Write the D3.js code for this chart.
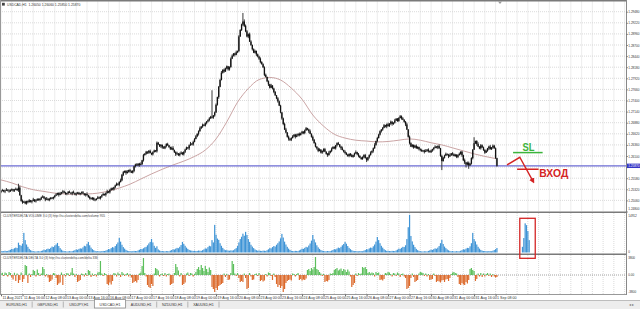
<!DOCTYPE html>
<html><head><meta charset="utf-8">
<script src="https://cdn.jsdelivr.net/npm/d3@7"></script>
<style>
html,body{margin:0;padding:0;background:#fff;overflow:hidden;}
svg{display:block;font-family:"Liberation Sans",Arial,sans-serif;}
</style></head><body>
<svg id="chart" width="640" height="309"></svg>
<script>
// ---------------- DATA ----------------
const symbolTitle = "USDCAD,H1";
const timeLabels = ["11 Aug 2021","11 Aug 16:00","12 Aug 08:00","13 Aug 00:00","13 Aug 16:00","16 Aug 08:00","17 Aug 00:00","17 Aug 16:00","18 Aug 08:00","19 Aug 00:00","19 Aug 16:00","20 Aug 08:00","23 Aug 00:00","23 Aug 16:00","24 Aug 08:00","25 Aug 00:00","25 Aug 16:00","26 Aug 08:00","27 Aug 00:00","27 Aug 16:00","30 Aug 08:00","31 Aug 00:00","31 Aug 16:00","1 Sep 08:00"];
const timeLabelBars = [0,16,32,48,64,80,96,112,128,144,160,176,192,208,224,240,256,272,288,304,320,336,352,368];
const priceTicks = [1.2480,1.2506,1.2532,1.2558,1.2584,1.2610,1.2636,1.2662,1.2688,1.2714,1.2740,1.2766,1.2792,1.2818,1.2844,1.2870,1.2896,1.2922,1.2948];
const volumeAxisMax = 14912;
const deltaAxisMax = 3800;
const tabs = ["EURUSD,H1","GBPUSD,H1","USDJPY,H1","USDCAD,H1","AUDUSD,H1","NZDUSD,H1","XAUUSD,H1"];
const activeTab = "USDCAD,H1";
const volumeTitle = "CLUSTERDELTA VOLUME 3.0 (3) http://ru.clusterdelta.com/volume 955";
const deltaTitle = "CLUSTERDELTA DELTA 3.0 (3) http://ru.clusterdelta.com/delta 336";

const opens = [
1.2526,1.2528,1.2530,1.2527,1.2529,1.2531,1.2529,1.2527,1.2530,1.2532,
1.2529,1.2531,1.2533,1.2530,1.2536,1.2518,1.2505,1.2501,1.2503,1.2499,
1.2504,1.2502,1.2506,1.2503,1.2505,1.2508,1.2504,1.2506,1.2509,1.2507,
1.2510,1.2513,1.2515,1.2511,1.2508,1.2510,1.2507,1.2509,1.2512,1.2511,
1.2514,1.2517,1.2520,1.2523,1.2519,1.2522,1.2525,1.2527,1.2524,1.2521,
1.2523,1.2526,1.2524,1.2522,1.2525,1.2523,1.2520,1.2522,1.2524,1.2521,
1.2523,1.2525,1.2522,1.2519,1.2521,1.2518,1.2514,1.2511,1.2509,1.2512,
1.2508,1.2507,1.2510,1.2513,1.2511,1.2515,1.2518,1.2521,1.2519,1.2523,
1.2527,1.2525,1.2530,1.2534,1.2532,1.2537,1.2541,1.2545,1.2543,1.2549,
1.2553,1.2566,1.2572,1.2575,1.2570,1.2573,1.2577,1.2574,1.2571,1.2575,
1.2586,1.2590,1.2588,1.2592,1.2589,1.2591,1.2600,1.2612,1.2615,1.2620,
1.2618,1.2622,1.2617,1.2614,1.2619,1.2623,1.2621,1.2641,1.2637,1.2633,
1.2636,1.2630,1.2628,1.2633,1.2638,1.2635,1.2631,1.2627,1.2629,1.2624,
1.2619,1.2614,1.2616,1.2612,1.2615,1.2618,1.2614,1.2620,1.2625,1.2630,
1.2628,1.2635,1.2639,1.2637,1.2643,1.2650,1.2656,1.2662,1.2668,1.2675,
1.2679,1.2683,1.2681,1.2687,1.2691,1.2694,1.2698,1.2702,1.2700,1.2705,
1.2712,1.2730,1.2748,1.2772,1.2788,1.2805,1.2812,1.2808,1.2815,1.2820,
1.2813,1.2818,1.2838,1.2845,1.2850,1.2847,1.2853,1.2856,1.2890,1.2905,
1.2918,1.2925,1.2915,1.2902,1.2890,1.2895,1.2878,1.2870,1.2860,1.2852,
1.2856,1.2848,1.2843,1.2838,1.2830,1.2825,1.2818,1.2800,1.2795,1.2785,
1.2778,1.2770,1.2775,1.2768,1.2760,1.2752,1.2745,1.2738,1.2728,1.2712,
1.2698,1.2685,1.2672,1.2665,1.2655,1.2650,1.2648,1.2652,1.2656,1.2660,
1.2655,1.2658,1.2662,1.2659,1.2663,1.2667,1.2664,1.2670,1.2675,1.2672,
1.2668,1.2662,1.2655,1.2648,1.2640,1.2632,1.2628,1.2622,1.2625,1.2618,
1.2622,1.2626,1.2620,1.2615,1.2612,1.2618,1.2622,1.2627,1.2631,1.2628,
1.2635,1.2640,1.2637,1.2632,1.2628,1.2624,1.2620,1.2617,1.2613,1.2610,
1.2615,1.2612,1.2608,1.2612,1.2616,1.2619,1.2614,1.2610,1.2606,1.2603,
1.2608,1.2612,1.2605,1.2601,1.2607,1.2612,1.2618,1.2622,1.2628,1.2636,
1.2645,1.2652,1.2660,1.2668,1.2672,1.2676,1.2682,1.2679,1.2684,1.2680,
1.2686,1.2690,1.2685,1.2688,1.2693,1.2697,1.2692,1.2699,1.2703,1.2698,
1.2695,1.2690,1.2684,1.2672,1.2655,1.2640,1.2632,1.2636,1.2630,1.2634,
1.2628,1.2631,1.2626,1.2624,1.2621,1.2623,1.2620,1.2622,1.2625,1.2621,
1.2619,1.2623,1.2626,1.2629,1.2632,1.2630,1.2633,1.2628,1.2610,1.2598,
1.2606,1.2611,1.2615,1.2613,1.2609,1.2612,1.2616,1.2614,1.2610,1.2613,
1.2608,1.2612,1.2615,1.2620,1.2612,1.2600,1.2595,1.2590,1.2594,1.2588,
1.2592,1.2605,1.2625,1.2640,1.2645,1.2638,1.2632,1.2628,1.2635,1.2630,
1.2624,1.2618,1.2622,1.2628,1.2632,1.2626,1.2630,1.2634,1.2628,1.2605];

const highs = [
1.2530,1.2533,1.2531,1.2531,1.2535,1.2532,1.2532,1.2532,1.2534,1.2533,
1.2533,1.2536,1.2534,1.2545,1.2540,1.2519,1.2508,1.2505,1.2505,1.2505,
1.2506,1.2509,1.2507,1.2507,1.2512,1.2509,1.2509,1.2511,1.2511,1.2511,
1.2515,1.2518,1.2516,1.2513,1.2514,1.2511,1.2512,1.2514,1.2514,1.2515,
1.2519,1.2523,1.2524,1.2525,1.2526,1.2526,1.2530,1.2529,1.2526,1.2524,
1.2528,1.2529,1.2525,1.2527,1.2529,1.2524,1.2525,1.2526,1.2526,1.2524,
1.2527,1.2528,1.2523,1.2523,1.2525,1.2519,1.2517,1.2513,1.2514,1.2513,
1.2510,1.2511,1.2516,1.2515,1.2516,1.2520,1.2524,1.2522,1.2525,1.2531,
1.2528,1.2533,1.2536,1.2536,1.2538,1.2543,1.2548,1.2546,1.2551,1.2557,
1.2568,1.2575,1.2576,1.2577,1.2577,1.2578,1.2580,1.2576,1.2577,1.2587,
1.2592,1.2593,1.2593,1.2594,1.2595,1.2601,1.2615,1.2617,1.2622,1.2621,
1.2624,1.2625,1.2618,1.2621,1.2625,1.2624,1.2644,1.2643,1.2638,1.2638,
1.2637,1.2633,1.2634,1.2640,1.2641,1.2636,1.2632,1.2632,1.2633,1.2625,
1.2621,1.2620,1.2617,1.2618,1.2621,1.2619,1.2621,1.2627,1.2632,1.2631,
1.2637,1.2643,1.2640,1.2646,1.2652,1.2659,1.2663,1.2670,1.2679,1.2680,
1.2686,1.2685,1.2689,1.2692,1.2696,1.2701,1.2704,1.2764,1.2706,1.2714,
1.2733,1.2749,1.2774,1.2791,1.2809,1.2813,1.2815,1.2817,1.2822,1.2821,
1.2820,1.2841,1.2848,1.2851,1.2852,1.2857,1.2857,1.2893,1.2907,1.2920,
1.2945,1.2930,1.2918,1.2905,1.2897,1.2899,1.2881,1.2871,1.2862,1.2859,
1.2857,1.2850,1.2845,1.2841,1.2832,1.2827,1.2820,1.2803,1.2796,1.2787,
1.2779,1.2779,1.2776,1.2770,1.2762,1.2753,1.2748,1.2740,1.2730,1.2713,
1.2700,1.2688,1.2676,1.2666,1.2658,1.2652,1.2654,1.2659,1.2661,1.2662,
1.2662,1.2663,1.2665,1.2665,1.2669,1.2668,1.2672,1.2678,1.2676,1.2674,
1.2672,1.2663,1.2658,1.2650,1.2642,1.2633,1.2630,1.2628,1.2626,1.2623,
1.2628,1.2629,1.2621,1.2617,1.2622,1.2623,1.2630,1.2633,1.2633,1.2636,
1.2642,1.2643,1.2638,1.2634,1.2632,1.2625,1.2623,1.2619,1.2615,1.2616,
1.2617,1.2615,1.2613,1.2618,1.2623,1.2620,1.2617,1.2612,1.2608,1.2609,
1.2614,1.2615,1.2607,1.2608,1.2614,1.2621,1.2623,1.2630,1.2640,1.2646,
1.2655,1.2662,1.2670,1.2673,1.2678,1.2685,1.2683,1.2686,1.2688,1.2687,
1.2693,1.2692,1.2689,1.2697,1.2699,1.2699,1.2701,1.2706,1.2705,1.2701,
1.2696,1.2692,1.2688,1.2673,1.2658,1.2642,1.2638,1.2637,1.2636,1.2637,
1.2633,1.2632,1.2628,1.2627,1.2624,1.2625,1.2626,1.2626,1.2628,1.2623,
1.2625,1.2627,1.2631,1.2635,1.2633,1.2635,1.2637,1.2629,1.2613,1.2608,
1.2613,1.2618,1.2616,1.2615,1.2616,1.2617,1.2619,1.2616,1.2615,1.2614,
1.2614,1.2618,1.2621,1.2622,1.2613,1.2604,1.2596,1.2597,1.2597,1.2594,
1.2607,1.2626,1.2654,1.2646,1.2647,1.2642,1.2633,1.2638,1.2637,1.2632,
1.2626,1.2625,1.2629,1.2634,1.2636,1.2631,1.2637,1.2636,1.2630,1.2606];

const lows = [
1.2523,1.2527,1.2525,1.2523,1.2528,1.2527,1.2524,1.2526,1.2528,1.2526,
1.2526,1.2530,1.2528,1.2526,1.2517,1.2503,1.2498,1.2500,1.2497,1.2496,
1.2499,1.2501,1.2501,1.2499,1.2504,1.2502,1.2501,1.2505,1.2505,1.2504,
1.2507,1.2512,1.2509,1.2504,1.2507,1.2505,1.2504,1.2508,1.2509,1.2508,
1.2511,1.2516,1.2518,1.2515,1.2518,1.2520,1.2522,1.2523,1.2519,1.2518,
1.2520,1.2523,1.2520,1.2518,1.2522,1.2518,1.2517,1.2521,1.2519,1.2518,
1.2520,1.2521,1.2517,1.2515,1.2517,1.2512,1.2508,1.2508,1.2507,1.2505,
1.2504,1.2506,1.2509,1.2509,1.2508,1.2512,1.2517,1.2517,1.2515,1.2522,
1.2523,1.2522,1.2529,1.2530,1.2529,1.2534,1.2540,1.2541,1.2539,1.2548,
1.2551,1.2563,1.2570,1.2566,1.2569,1.2571,1.2571,1.2570,1.2569,1.2572,
1.2583,1.2587,1.2586,1.2585,1.2588,1.2589,1.2597,1.2611,1.2613,1.2615,
1.2615,1.2616,1.2612,1.2611,1.2618,1.2619,1.2618,1.2636,1.2631,1.2629,
1.2627,1.2627,1.2626,1.2630,1.2634,1.2629,1.2624,1.2624,1.2623,1.2617,
1.2610,1.2613,1.2610,1.2609,1.2614,1.2612,1.2611,1.2617,1.2624,1.2626,
1.2624,1.2634,1.2635,1.2634,1.2642,1.2649,1.2654,1.2658,1.2667,1.2673,
1.2676,1.2680,1.2679,1.2684,1.2689,1.2691,1.2697,1.2698,1.2697,1.2702,
1.2711,1.2728,1.2744,1.2771,1.2787,1.2803,1.2805,1.2807,1.2813,1.2810,
1.2810,1.2817,1.2837,1.2843,1.2843,1.2846,1.2851,1.2853,1.2889,1.2903,
1.2915,1.2912,1.2900,1.2888,1.2886,1.2877,1.2868,1.2857,1.2851,1.2850,
1.2844,1.2841,1.2835,1.2827,1.2824,1.2816,1.2797,1.2794,1.2783,1.2774,
1.2768,1.2769,1.2766,1.2757,1.2751,1.2743,1.2735,1.2727,1.2710,1.2695,
1.2682,1.2671,1.2663,1.2653,1.2646,1.2645,1.2645,1.2651,1.2654,1.2651,
1.2654,1.2656,1.2656,1.2658,1.2661,1.2661,1.2661,1.2669,1.2670,1.2664,
1.2661,1.2653,1.2645,1.2639,1.2630,1.2625,1.2619,1.2621,1.2616,1.2615,
1.2619,1.2619,1.2613,1.2608,1.2611,1.2616,1.2619,1.2626,1.2626,1.2625,
1.2632,1.2636,1.2630,1.2624,1.2623,1.2618,1.2614,1.2612,1.2608,1.2607,
1.2609,1.2607,1.2606,1.2608,1.2615,1.2612,1.2607,1.2605,1.2601,1.2601,
1.2605,1.2604,1.2596,1.2598,1.2604,1.2611,1.2616,1.2618,1.2627,1.2634,
1.2642,1.2651,1.2658,1.2665,1.2669,1.2675,1.2677,1.2675,1.2679,1.2678,
1.2683,1.2681,1.2683,1.2686,1.2692,1.2690,1.2690,1.2698,1.2695,1.2694,
1.2688,1.2680,1.2671,1.2653,1.2637,1.2631,1.2630,1.2627,1.2629,1.2627,
1.2626,1.2623,1.2621,1.2620,1.2619,1.2616,1.2619,1.2620,1.2618,1.2618,
1.2617,1.2620,1.2623,1.2628,1.2628,1.2626,1.2627,1.2608,1.2577,1.2597,
1.2604,1.2610,1.2611,1.2605,1.2608,1.2610,1.2611,1.2609,1.2608,1.2605,
1.2605,1.2611,1.2613,1.2608,1.2598,1.2591,1.2583,1.2588,1.2580,1.2587,
1.2590,1.2602,1.2624,1.2638,1.2634,1.2631,1.2626,1.2625,1.2629,1.2622,
1.2615,1.2617,1.2620,1.2624,1.2625,1.2624,1.2627,1.2627,1.2603,1.2585];

const closes = [
1.2528,1.2530,1.2527,1.2529,1.2531,1.2529,1.2527,1.2530,1.2532,1.2529,
1.2531,1.2533,1.2530,1.2536,1.2518,1.2505,1.2501,1.2503,1.2499,1.2504,
1.2502,1.2506,1.2503,1.2505,1.2508,1.2504,1.2506,1.2509,1.2507,1.2510,
1.2513,1.2515,1.2511,1.2508,1.2510,1.2507,1.2509,1.2512,1.2511,1.2514,
1.2517,1.2520,1.2523,1.2519,1.2522,1.2525,1.2527,1.2524,1.2521,1.2523,
1.2526,1.2524,1.2522,1.2525,1.2523,1.2520,1.2522,1.2524,1.2521,1.2523,
1.2525,1.2522,1.2519,1.2521,1.2518,1.2514,1.2511,1.2509,1.2512,1.2508,
1.2507,1.2510,1.2513,1.2511,1.2515,1.2518,1.2521,1.2519,1.2523,1.2527,
1.2525,1.2530,1.2534,1.2532,1.2537,1.2541,1.2545,1.2543,1.2549,1.2553,
1.2566,1.2572,1.2575,1.2570,1.2573,1.2577,1.2574,1.2571,1.2575,1.2586,
1.2590,1.2588,1.2592,1.2589,1.2591,1.2600,1.2612,1.2615,1.2620,1.2618,
1.2622,1.2617,1.2614,1.2619,1.2623,1.2621,1.2641,1.2637,1.2633,1.2636,
1.2630,1.2628,1.2633,1.2638,1.2635,1.2631,1.2627,1.2629,1.2624,1.2619,
1.2614,1.2616,1.2612,1.2615,1.2618,1.2614,1.2620,1.2625,1.2630,1.2628,
1.2635,1.2639,1.2637,1.2643,1.2650,1.2656,1.2662,1.2668,1.2675,1.2679,
1.2683,1.2681,1.2687,1.2691,1.2694,1.2698,1.2702,1.2700,1.2705,1.2712,
1.2730,1.2748,1.2772,1.2788,1.2805,1.2812,1.2808,1.2815,1.2820,1.2813,
1.2818,1.2838,1.2845,1.2850,1.2847,1.2853,1.2856,1.2890,1.2905,1.2918,
1.2925,1.2915,1.2902,1.2890,1.2895,1.2878,1.2870,1.2860,1.2852,1.2856,
1.2848,1.2843,1.2838,1.2830,1.2825,1.2818,1.2800,1.2795,1.2785,1.2778,
1.2770,1.2775,1.2768,1.2760,1.2752,1.2745,1.2738,1.2728,1.2712,1.2698,
1.2685,1.2672,1.2665,1.2655,1.2650,1.2648,1.2652,1.2656,1.2660,1.2655,
1.2658,1.2662,1.2659,1.2663,1.2667,1.2664,1.2670,1.2675,1.2672,1.2668,
1.2662,1.2655,1.2648,1.2640,1.2632,1.2628,1.2622,1.2625,1.2618,1.2622,
1.2626,1.2620,1.2615,1.2612,1.2618,1.2622,1.2627,1.2631,1.2628,1.2635,
1.2640,1.2637,1.2632,1.2628,1.2624,1.2620,1.2617,1.2613,1.2610,1.2615,
1.2612,1.2608,1.2612,1.2616,1.2619,1.2614,1.2610,1.2606,1.2603,1.2608,
1.2612,1.2605,1.2601,1.2607,1.2612,1.2618,1.2622,1.2628,1.2636,1.2645,
1.2652,1.2660,1.2668,1.2672,1.2676,1.2682,1.2679,1.2684,1.2680,1.2686,
1.2690,1.2685,1.2688,1.2693,1.2697,1.2692,1.2699,1.2703,1.2698,1.2695,
1.2690,1.2684,1.2672,1.2655,1.2640,1.2632,1.2636,1.2630,1.2634,1.2628,
1.2631,1.2626,1.2624,1.2621,1.2623,1.2620,1.2622,1.2625,1.2621,1.2619,
1.2623,1.2626,1.2629,1.2632,1.2630,1.2633,1.2628,1.2610,1.2598,1.2606,
1.2611,1.2615,1.2613,1.2609,1.2612,1.2616,1.2614,1.2610,1.2613,1.2608,
1.2612,1.2615,1.2620,1.2612,1.2600,1.2595,1.2590,1.2594,1.2588,1.2592,
1.2605,1.2625,1.2640,1.2645,1.2638,1.2632,1.2628,1.2635,1.2630,1.2624,
1.2618,1.2622,1.2628,1.2632,1.2626,1.2630,1.2634,1.2628,1.2605,1.2587];

const maBars = [0,8,16,24,32,40,48,56,64,72,80,88,96,104,112,120,128,136,144,152,160,168,176,184,192,200,208,216,224,232,240,248,256,264,272,280,288,296,304,312,320,328,336,344,352,360,368];
const maValues = [1.2554,1.2547,1.2538,1.2531,1.2527,1.2523,1.2521,1.2520,1.2521,1.2523,1.2528,1.2535,1.2544,1.2556,1.2568,1.2579,1.2589,1.2598,1.2609,1.2624,1.2650,1.2690,1.2736,1.2768,1.2789,1.2794,1.2788,1.2769,1.2743,1.2706,1.2680,1.2661,1.2652,1.2647,1.2645,1.2643,1.2644,1.2647,1.2650,1.2647,1.2641,1.2636,1.2629,1.2622,1.2615,1.2609,1.2604];

const volumes = [
620,480,550,700,520,610,830,1050,1420,1280,1650,1900,1750,3800,2900,2600,3400,7600,4800,3100,2200,1400,900,650,
520,410,380,460,500,430,620,780,1100,950,1300,1500,1350,1800,2300,2100,2700,3100,3700,2500,1700,1100,700,540,
480,390,440,520,460,510,700,900,1200,1050,1400,1600,1500,2000,2600,2400,3300,4100,2800,1900,1300,900,620,450,
560,470,420,530,610,580,760,1000,1350,1250,1700,2100,1900,2500,3200,3900,5650,4200,3000,2100,1500,1000,700,520,
540,450,500,620,580,530,800,1050,1400,1300,1650,2000,2200,2800,3500,4100,5250,3900,2600,1800,2400,1200,800,560,
600,480,440,560,500,470,720,950,1250,1150,1500,1800,1650,2200,2900,4100,3300,2600,1900,1400,1000,800,700,600,
700,560,610,760,680,640,900,1200,1600,1500,2100,2600,2400,4800,3900,10700,6900,5400,4900,3600,2600,1800,1200,900,
900,760,700,820,760,880,1300,1700,2500,3900,5200,6100,7300,6500,8000,6800,5200,4100,3000,2300,1700,1200,900,700,
800,650,600,720,690,620,900,1250,1700,1600,2100,2500,2300,3000,3600,4300,5500,7200,5800,4200,3100,2200,1500,1000,
700,560,520,640,600,560,820,1100,1500,1400,1800,2200,2000,2700,3500,4600,6800,5100,3900,2800,2000,1400,950,700,
620,500,460,580,540,500,740,980,1300,1200,1550,1900,1700,2200,2800,3300,4100,3400,2500,1800,1300,900,650,520,
600,480,450,560,520,480,720,950,1300,1200,1600,1900,1800,2400,3100,4200,6000,4800,3600,2600,1900,1300,900,640,
700,560,520,640,600,560,820,1100,1500,1400,1800,2200,2100,2800,5200,9800,14600,6400,4300,3000,2100,1400,900,650,
520,420,400,480,450,420,620,820,1100,1000,1300,1600,1450,1900,2500,3600,4900,3300,2300,1700,1200,850,600,460,
560,450,420,520,480,440,680,900,1250,1150,1500,1800,1700,2400,3600,7600,5200,4300,3100,2200,1500,1000,720,560,
600,480,450,560,520,480,700,950,1300,1750];

const deltas = [
300,450,-200,500,350,-300,600,400,-500,-900,
450,-1200,300,-1600,-1000,500,-1400,-800,2000,1800,
-1600,300,-400,200,1000,800,-300,1100,400,-200,
300,1600,1200,-300,200,-500,-1400,-1200,-900,400,
300,-600,-2000,-1700,-1500,500,-2000,200,-300,400,
300,-200,500,1400,300,-400,200,-1400,-1200,-1000,
300,200,-300,400,-200,1000,800,-400,300,-200,
200,-300,500,600,2800,300,-200,400,200,-1800,
-2000,-1500,-1900,-1200,400,300,-300,500,200,-400,
600,300,-200,200,400,-300,200,-500,-1600,-1400,
-1200,-1500,-1000,300,500,1800,3400,400,-300,-2000,
-2400,-2600,-1800,-2200,300,1400,1200,900,-300,200,
300,-200,400,-300,200,300,-2000,-1800,-1600,400,
2200,1600,900,-300,400,-2000,-1800,-1500,300,500,
-200,400,300,-300,200,600,1200,1600,1000,2000,
1400,800,1800,1200,600,1500,1000,-2400,-2800,-3400,
-2600,-3000,-2200,-2000,-1800,-1600,300,-400,200,-1000,
-900,400,2800,2200,300,-200,400,-600,-1400,-1200,
-1400,300,-600,-2800,-2600,400,-300,-1000,-900,200,
300,-200,400,-1200,-1000,-1300,-1100,200,-300,500,
400,-200,-1000,300,-400,-1800,-2400,-2000,-2600,-2200,
-3400,-2800,-1600,-1200,-1000,-900,-1100,300,200,-300,
200,400,-1000,-800,-1100,-900,-1000,-700,1000,1200,
800,1400,1100,1600,3600,1200,1000,600,300,-200,
200,-1400,-1200,-1300,-1000,300,200,400,1000,1200,
1400,900,1100,1300,800,1200,1000,600,1100,700,
-300,-2400,-2000,-1600,300,-200,400,200,300,1600,
1400,1600,1200,400,600,300,500,400,-300,600,
400,500,-1000,-900,-1100,-800,400,300,600,500,
200,-300,400,300,-200,500,300,-400,200,300,
-300,-600,-2800,-2600,-2200,-600,300,-400,-1400,-1200,
-1000,300,600,500,400,-200,300,-300,200,-1000,
-900,-800,300,-200,-1400,-1200,-1300,-1500,-1100,-1000,
-1400,-900,-800,-1200,-600,200,500,600,400,300,
-400,-1800,-2000,-1600,-1900,-2000,-1400,-1700,-1000,1200,
1400,1000,800,-1200,-800,300,-300,400,-400,300,
-300,200,400,-200,300,-400,200,-300,-500,-400];

// hand-drawn annotation (in bar / price / volume units)
const slPrice = 1.2618, slFromBar = 381, slToBar = 403, slTextBar = 388;
const entryPrice = 1.2579, entryFromBar = 384, entryToBar = 400, entryTextBar = 400.5, entryTextPrice = 1.2561;
const arrowBars = [376.5, 386, 396];
const arrowPrices = [1.2589, 1.2607, 1.2550];
const boxFromBar = 386, boxToBar = 397.5, boxVolTop = 13250, boxVolBottom = -2250;
const sketchVolBars = [388,389,390,391,392,393];
const sketchVolumes = [2200,5600,11300,10600,8300,4800];

// ---------------- DRAW ----------------
const svg = d3.select("#chart");
const plotR = 626;
const n = closes.length;
const x = d3.scaleLinear().domain([0, n - 1]).range([1, 1 + 1.344 * (n - 1)]);
const yP = d3.scaleLinear().domain([priceTicks[0], priceTicks[priceTicks.length - 1]]).range([211.5, 11.7]);
const yV = d3.scaleLinear().domain([0, volumeAxisMax]).range([252.5, 214]);
const yD = d3.scaleLinear().domain([-deltaAxisMax, deltaAxisMax]).range([294, 256]);
const fs = 3.6, fsAx = 3.1;

const defs = svg.append("defs");
defs.append("clipPath").attr("id", "clipMain").append("rect").attr("x", 0).attr("y", 1.5).attr("width", plotR).attr("height", 210.3);
defs.append("clipPath").attr("id", "clipVol").append("rect").attr("x", 0).attr("y", 213).attr("width", plotR).attr("height", 40.5);
defs.append("clipPath").attr("id", "clipDel").append("rect").attr("x", 0).attr("y", 255).attr("width", plotR).attr("height", 39);
defs.append("marker").attr("id", "arrowHead").attr("viewBox", "0 0 10 10")
  .attr("refX", 6).attr("refY", 5).attr("markerWidth", 5.5).attr("markerHeight", 5.5)
  .attr("markerUnits", "userSpaceOnUse").attr("orient", "auto")
  .append("path").attr("d", "M0,0 L10,5 L0,10 Z").attr("fill", "#d42424");

svg.append("rect").attr("width", 640).attr("height", 309).attr("fill", "#fff");

// grid
const panels = [[1.5, 211.5], [213, 253.5], [255, 294]];
const gridBars = d3.range(0, Math.floor(x.invert(plotR)) + 1, 8);
const gGrid = svg.append("g").attr("stroke", "#d2d2d2").attr("stroke-width", 0.8).attr("stroke-dasharray", "1,1");
panels.forEach(([t, b]) => {
  gGrid.append("g").selectAll("line").data(gridBars).join("line")
    .attr("x1", d => x(d)).attr("x2", d => x(d)).attr("y1", t).attr("y2", b);
});
gGrid.append("g").selectAll("line").data(priceTicks.slice(1)).join("line")
  .attr("x1", 0).attr("x2", plotR).attr("y1", d => yP(d)).attr("y2", d => yP(d));

// delta zero line
svg.append("line").attr("x1", 0).attr("x2", plotR).attr("y1", yD(0)).attr("y2", yD(0))
  .attr("stroke", "#8a8a8a").attr("stroke-width", 0.8).attr("stroke-dasharray", "1,1");

// moving average
const gMain = svg.append("g").attr("clip-path", "url(#clipMain)");
gMain.append("path").datum(maBars.map((b, i) => [b, maValues[i]]))
  .attr("fill", "none").attr("stroke", "#c49a9a").attr("stroke-width", 0.9)
  .attr("d", d3.line().x(d => x(d[0])).y(d => yP(d[1])).curve(d3.curveMonotoneX));

// bid line
const lastClose = closes[n - 1];
gMain.append("line").attr("x1", 0).attr("x2", plotR).attr("y1", yP(lastClose)).attr("y2", yP(lastClose))
  .attr("stroke", "#6c6cd4").attr("stroke-width", 1.2);

// candles
const bars = d3.range(n);
gMain.append("g").attr("stroke", "#3a3a3a").attr("stroke-width", 1)
  .selectAll("line").data(bars).join("line")
  .attr("x1", i => x(i)).attr("x2", i => x(i))
  .attr("y1", i => yP(highs[i])).attr("y2", i => yP(lows[i]));
gMain.append("g").attr("fill", "#111")
  .selectAll("rect").data(bars).join("rect")
  .attr("x", i => x(i) - 0.65).attr("width", 1.3)
  .attr("y", i => yP(Math.max(opens[i], closes[i])))
  .attr("height", i => Math.max(0.7, Math.abs(yP(opens[i]) - yP(closes[i]))));

// volume
const gVol = svg.append("g").attr("clip-path", "url(#clipVol)");
gVol.append("g").attr("fill", "#3f94d6").selectAll("rect").data(bars).join("rect")
  .attr("x", i => x(i) - 0.6).attr("width", 1.2)
  .attr("y", i => yV(volumes[i])).attr("height", i => yV(0) - yV(volumes[i]));
gVol.append("g").attr("fill", "#3f94d6").selectAll("rect").data(sketchVolBars).join("rect")
  .attr("x", (b) => x(b) - 0.6).attr("width", 1.2)
  .attr("y", (b, k) => yV(sketchVolumes[k])).attr("height", (b, k) => yV(0) - yV(sketchVolumes[k]));

// delta
const gDel = svg.append("g").attr("clip-path", "url(#clipDel)");
gDel.selectAll("rect").data(bars).join("rect")
  .attr("x", i => x(i) - 0.6).attr("width", 1.2)
  .attr("y", i => Math.min(yD(deltas[i]), yD(0)))
  .attr("height", i => Math.abs(yD(deltas[i]) - yD(0)))
  .attr("fill", i => deltas[i] >= 0 ? "#5cbf5c" : "#dc6a2c");

// borders
const border = svg.append("g").attr("stroke", "#7a7a7a");
border.append("line").attr("x1", 0).attr("x2", plotR).attr("y1", 0.8).attr("y2", 0.8).attr("stroke-width", 1.6);
border.append("line").attr("x1", 0).attr("x2", plotR).attr("y1", 212.3).attr("y2", 212.3).attr("stroke-width", 1.6);
border.append("line").attr("x1", 0).attr("x2", plotR).attr("y1", 254.3).attr("y2", 254.3).attr("stroke-width", 1.6);
border.append("line").attr("x1", 0).attr("x2", plotR).attr("y1", 294.5).attr("y2", 294.5).attr("stroke-width", 1).attr("stroke", "#999");
border.append("line").attr("x1", 0.5).attr("x2", 0.5).attr("y1", 0).attr("y2", 295).attr("stroke-width", 1).attr("stroke", "#999");
border.append("line").attr("x1", plotR + 0.5).attr("x2", plotR + 0.5).attr("y1", 0).attr("y2", 295).attr("stroke-width", 1).attr("stroke", "#888");

// shift marker
svg.append("path").attr("d", "M498,1.5 L502,1.5 L500,4 Z").attr("fill", "#999");

// price axis (label hidden where the bid label sits, as the terminal does)
const pAxis = svg.append("g").attr("transform", `translate(${plotR + 0.5},0)`)
  .call(d3.axisRight(yP).tickValues(priceTicks).tickFormat(d3.format(".5f")).tickSize(1.2).tickPadding(0.6));
pAxis.select(".domain").remove();
pAxis.selectAll("line").attr("stroke", "#666");
pAxis.selectAll("text").attr("font-size", fsAx).attr("fill", "#333").attr("font-family", "Liberation Sans, Arial, sans-serif")
  .attr("dy", d => d === priceTicks[0] ? "-0.6em" : "0.32em")
  .style("display", d => Math.abs(yP(d) - yP(lastClose)) < 4 ? "none" : null);

// bid label
svg.append("rect").attr("x", plotR + 1).attr("y", yP(lastClose) - 2.2).attr("width", 14).attr("height", 4.4).attr("fill", "#3535c6");
svg.append("text").attr("x", plotR + 2.2).attr("y", yP(lastClose) + 1.1).attr("font-size", fsAx).attr("fill", "#fff")
  .text(d3.format(".5f")(lastClose));

// sub-window scale labels
const sub = svg.append("g").attr("font-size", fsAx).attr("fill", "#333");
sub.append("text").attr("x", plotR + 2.2).attr("y", yV(volumeAxisMax) + 2.6).text(volumeAxisMax);
sub.append("text").attr("x", plotR + 2.2).attr("y", yV(0) + 0.5).text("0");
sub.append("text").attr("x", plotR + 2.2).attr("y", yD(deltaAxisMax) + 2.6).text(deltaAxisMax);
sub.append("text").attr("x", plotR + 2.2).attr("y", yD(0) + 1.1).text("0.00");
sub.append("text").attr("x", plotR + 2.2).attr("y", yD(-deltaAxisMax) - 1.2).text(-deltaAxisMax);

// time axis
const tAxis = svg.append("g").attr("transform", "translate(0,294.5)")
  .call(d3.axisBottom(x).tickValues(timeLabelBars).tickFormat((d, i) => timeLabels[i]).tickSize(1.8).tickPadding(0.6));
tAxis.select(".domain").remove();
tAxis.selectAll("line").attr("stroke", "#666");
tAxis.selectAll("text").attr("font-size", fs).attr("fill", "#333").attr("text-anchor", "start").attr("dx", 1)
  .attr("font-family", "Liberation Sans, Arial, sans-serif");

// titles
svg.append("rect").attr("x", 2).attr("y", 2.8).attr("width", 2.8).attr("height", 2.8).attr("fill", "#444");
const f5 = d3.format(".5f");
svg.append("text").attr("x", 7).attr("y", 5.8).attr("font-size", 3.4).attr("fill", "#333")
  .attr("xml:space", "preserve")
  .text(`${symbolTitle}  ${f5(opens[n - 1])} ${f5(highs[n - 1])} ${f5(lows[n - 1])} ${f5(closes[n - 1])}`);
svg.append("text").attr("x", 3).attr("y", 217).attr("font-size", 3.2).attr("fill", "#444").text(volumeTitle);
svg.append("text").attr("x", 3).attr("y", 258.8).attr("font-size", 3.2).attr("fill", "#444").text(deltaTitle);

// annotations
const ann = svg.append("g");
ann.append("line").attr("x1", x(slFromBar)).attr("x2", x(slToBar)).attr("y1", yP(slPrice)).attr("y2", yP(slPrice))
  .attr("stroke", "#3cb43c").attr("stroke-width", 1.5);
ann.append("text").attr("x", x(slTextBar)).attr("y", yP(slPrice) - 1.2)
  .attr("font-size", 11.5).attr("font-weight", "bold").attr("fill", "#3cb43c")
  .attr("textLength", 12).attr("lengthAdjust", "spacingAndGlyphs").text("SL");
ann.append("line").attr("x1", x(entryFromBar)).attr("x2", x(entryToBar)).attr("y1", yP(entryPrice)).attr("y2", yP(entryPrice))
  .attr("stroke", "#d42424").attr("stroke-width", 1.5);
ann.append("path").datum(arrowBars.map((b, i) => [b, arrowPrices[i]]))
  .attr("fill", "none").attr("stroke", "#d42424").attr("stroke-width", 1.4).attr("marker-end", "url(#arrowHead)")
  .attr("d", d3.line().x(d => x(d[0])).y(d => yP(d[1])));
ann.append("text").attr("x", x(entryTextBar)).attr("y", yP(entryTextPrice))
  .attr("font-size", 11.5).attr("font-weight", "bold").attr("fill", "#d42424")
  .attr("textLength", 29).attr("lengthAdjust", "spacingAndGlyphs").text("ВХОД");
ann.append("rect").attr("x", x(boxFromBar)).attr("y", yV(boxVolTop))
  .attr("width", x(boxToBar) - x(boxFromBar)).attr("height", yV(boxVolBottom) - yV(boxVolTop))
  .attr("fill", "none").attr("stroke", "#d42424").attr("stroke-width", 1.3);

// tab bar
svg.append("rect").attr("x", 0).attr("y", 300).attr("width", 640).attr("height", 9).attr("fill", "#ededed");
svg.append("line").attr("x1", 0).attr("x2", 640).attr("y1", 300.5).attr("y2", 300.5).attr("stroke", "#bdbdbd").attr("stroke-width", 1);
const tabX = d3.scaleBand().domain(tabs).range([1, 219]);
const gTabs = svg.append("g");
gTabs.selectAll("rect").data(tabs.filter(t => t === activeTab)).join("rect")
  .attr("x", d => tabX(d)).attr("y", 299.5).attr("width", tabX.bandwidth()).attr("height", 8.5)
  .attr("fill", "#fff").attr("stroke", "#8a8a8a").attr("stroke-width", 0.8);
gTabs.selectAll("line").data(tabs).join("line")
  .attr("x1", d => tabX(d) + tabX.bandwidth()).attr("x2", d => tabX(d) + tabX.bandwidth())
  .attr("y1", 301.5).attr("y2", 307.5).attr("stroke", "#a5a5a5").attr("stroke-width", 0.8);
gTabs.selectAll("text").data(tabs).join("text")
  .attr("x", d => tabX(d) + tabX.bandwidth() / 2).attr("y", 305.8).attr("text-anchor", "middle")
  .attr("font-size", fs).attr("fill", "#333").text(d => d);
svg.append("text").attr("x", 629).attr("y", 306).attr("font-size", 4).attr("fill", "#777").text("◂ ▸");
</script>
</body></html>
